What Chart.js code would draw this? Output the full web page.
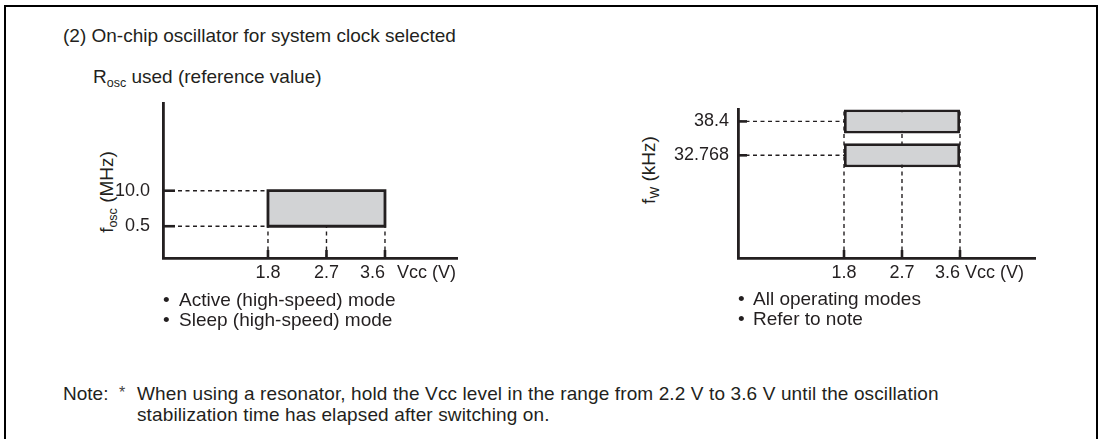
<!DOCTYPE html>
<html>
<head>
<meta charset="utf-8">
<script src="https://cdn.jsdelivr.net/npm/chart.js@4.4.1/dist/chart.umd.min.js"></script>
<style>
  html, body { margin: 0; padding: 0; background: #fff; }
  body {
    width: 1102px; height: 439px; position: relative; overflow: hidden;
    font-family: "Liberation Sans", Arial, Helvetica, sans-serif; color: #231f20;
  }
  .frame {
    position: absolute; left: 4px; top: 5px; width: 1090px; height: 470px;
    border: 2.5px solid #000; border-bottom: none;
  }
  .t { position: absolute; white-space: nowrap; font-size: 19px; line-height: 19px; }
  .t sub { font-size: 12.5px; line-height: 0; vertical-align: -4px; }
  .rot { transform: translate(-50%, -50%) rotate(-90deg); }
  .star { font-size: 16px; color: #444; }
  .note { letter-spacing: 0.12px; }
  canvas { position: absolute; }
</style>
</head>
<body>
<div class="frame"></div>

<div class="t" style="left:63px; top:26px;">(2) On-chip oscillator for system clock selected</div>
<div class="t" style="left:93px; top:67px;">R<sub>osc</sub> used (reference value)</div>

<div class="t rot" style="left:106px; top:192px;">f<sub>osc</sub> (MHz)</div>
<div class="t rot" style="left:648px; top:170px;">f<sub>W</sub> (kHz)</div>

<canvas id="oscChart" width="390" height="230" style="left:100px; top:80px;"></canvas>
<canvas id="subChart" width="420" height="220" style="left:660px; top:90px;"></canvas>

<div class="t" style="left:163px; top:290px;">•</div>
<div class="t" style="left:179px; top:290px;">Active (high-speed) mode</div>
<div class="t" style="left:163px; top:310px;">•</div>
<div class="t" style="left:179px; top:310px;">Sleep (high-speed) mode</div>

<div class="t" style="left:738px; top:289px;">•</div>
<div class="t" style="left:753px; top:289px;">All operating modes</div>
<div class="t" style="left:738px; top:309px;">•</div>
<div class="t" style="left:753px; top:309px;">Refer to note</div>

<div class="t" style="left:63px; top:384px;">Note:</div>
<div class="t star" style="left:119px; top:383px;">*</div>
<div class="t note" style="left:137px; top:384px;">When using a resonator, hold the Vcc level in the range from 2.2 V to 3.6 V until the oscillation</div>
<div class="t note" style="left:137px; top:405px;">stabilization time has elapsed after switching on.</div>

<script>
// ---- Left diagram: on-chip oscillator (f_osc vs Vcc) ----
const oscVccTicks   = [1.8, 2.7, 3.6];
const oscVccLabels  = ['1.8', '2.7', '3.6'];
const oscFreqTicks  = [0.5, 10.0];
const oscFreqLabels = ['0.5', '10.0'];
const oscVccRange   = [1.8, 3.6];
const oscFreqRange  = [0.5, 10.0];

// ---- Right diagram: subsystem clock (f_W vs Vcc) ----
const subVccTicks   = [1.8, 2.7, 3.6];
const subVccLabels  = ['1.8', '2.7', '3.6'];
const subFreqTicks  = [32.768, 38.4];
const subFreqLabels = ['32.768', '38.4'];
const subVccRange   = [1.8, 3.6];
const subFreqBands  = [38.4, 32.768];

const unitLabel = 'Vcc (V)';

const FONT = '"Liberation Sans", Arial, Helvetica, sans-serif';
const INK = '#231f20';
const BOX_FILL = '#d2d3d5';

// axis windows (schematic, not to scale)
const oscX = { min: 0.185, max: 4.708 };
const oscY = { min: -8.0, max: 33.25 };
const subX = { min: 0.155, max: 4.764 };
const subY = { min: 15.71, max: 40.33 };

// short inward tick marks plus the Vcc tick labels and unit
const axisMarks = {
  id: 'axisMarks',
  afterDatasetsDraw(chart, args, o) {
    const { ctx, chartArea, scales } = chart;
    const xs = scales.x, ys = scales.y;
    ctx.save();
    ctx.strokeStyle = INK;
    ctx.lineWidth = 2.6;
    ctx.lineCap = 'butt';
    o.yTicks.forEach(v => {
      const py = ys.getPixelForValue(v);
      ctx.beginPath();
      ctx.moveTo(chartArea.left, py);
      ctx.lineTo(chartArea.left + o.yLen, py);
      ctx.stroke();
    });
    o.xTicks.forEach(v => {
      const px = xs.getPixelForValue(v);
      ctx.beginPath();
      ctx.moveTo(px, chartArea.bottom);
      ctx.lineTo(px, chartArea.bottom - o.xLen);
      ctx.stroke();
    });
    ctx.fillStyle = INK;
    ctx.font = '18px ' + FONT;
    ctx.textBaseline = 'middle';
    const ly = chartArea.bottom + o.labelDy;
    const n = o.xTicks.length;
    let lastPx = 0;
    o.xTicks.forEach((v, i) => {
      const px = xs.getPixelForValue(v);
      ctx.textAlign = (i === n - 1) ? 'right' : 'center';
      ctx.fillText(o.xLabels[i], px, ly);
      lastPx = px;
    });
    ctx.textAlign = 'left';
    ctx.fillText(o.unit, lastPx + o.unitGap, ly);
    ctx.restore();
  }
};

function scaleOptions(xr, yr, yTicks, yLabels, yWidth, xHeight, yPad) {
  const grid = { display: true, drawOnChartArea: false, drawTicks: false, offset: false };
  const border = { display: true, color: INK, width: 2.8 };
  return {
    x: {
      type: 'linear', min: xr.min, max: xr.max, offset: false,
      grid, border,
      ticks: { display: false },
      afterFit: s => { s.height = xHeight; }
    },
    y: {
      type: 'linear', min: yr.min, max: yr.max, offset: false,
      grid, border,
      afterBuildTicks: s => { s.ticks = yTicks.map(v => ({ value: v })); },
      ticks: {
        autoSkip: false, padding: yPad, color: INK,
        font: { family: FONT, size: 18 },
        callback: (v, i) => yLabels[i]
      },
      afterFit: s => { s.width = yWidth; }
    }
  };
}

function guide(points) {
  return {
    type: 'line', data: points, borderColor: INK, borderWidth: 1.4,
    borderDash: [4, 3.5], pointRadius: 0, pointHoverRadius: 0,
    fill: false, tension: 0, clip: false, order: 2
  };
}

function rectPoints(xr, yr) {
  return [
    { x: xr[0], y: yr[0] }, { x: xr[0], y: yr[1] },
    { x: xr[1], y: yr[1] }, { x: xr[1], y: yr[0] },
    { x: xr[0], y: yr[0] }
  ];
}

const common = {
  responsive: false,
  maintainAspectRatio: false,
  animation: false,
  events: [],
  plugins: { legend: { display: false }, tooltip: { enabled: false } }
};

// Left: operating window box with guides
new Chart(document.getElementById('oscChart'), {
  type: 'line',
  data: {
    datasets: [
      {
        data: rectPoints(oscVccRange, oscFreqRange),
        fill: 'shape', backgroundColor: BOX_FILL,
        borderColor: INK, borderWidth: 2.8, borderJoinStyle: 'miter', borderCapStyle: 'square',
        pointRadius: 0, pointHoverRadius: 0, tension: 0, clip: false, order: 0
      },
      ...oscFreqTicks.map(f => guide([{ x: oscX.min, y: f }, { x: oscVccRange[0], y: f }])),
      ...oscVccTicks.map(v => guide([{ x: v, y: oscY.min }, { x: v, y: oscFreqRange[0] }]))
    ]
  },
  options: Object.assign({}, common, {
    layout: { padding: { top: 13, right: 33, left: 0, bottom: 0 } },
    scales: scaleOptions(oscX, oscY, oscFreqTicks, oscFreqLabels, 63, 52, 13),
    plugins: Object.assign({}, common.plugins, {
      axisMarks: {
        xTicks: oscVccTicks, xLabels: oscVccLabels, yTicks: oscFreqTicks,
        xLen: 8, yLen: 12, labelDy: 15.5, unit: unitLabel, unitGap: 12
      }
    })
  }),
  plugins: [axisMarks]
});

// Right: two subsystem clock bands across the Vcc range
new Chart(document.getElementById('subChart'), {
  type: 'line',
  data: {
    datasets: [
      {
        type: 'bar', indexAxis: 'y',
        data: subFreqBands.map(f => ({ y: f, x: subVccRange.slice() })),
        backgroundColor: BOX_FILL, borderColor: INK, borderWidth: 2.8, borderSkipped: false,
        categoryPercentage: 1, barPercentage: 0.71, clip: false, order: 0
      },
      ...subFreqTicks.map(f => guide([{ x: subX.min, y: f }, { x: subVccRange[0], y: f }])),
      ...subVccTicks.map(v => guide([{ x: v, y: subY.min }, { x: v, y: subY.max }]))
    ]
  },
  options: Object.assign({}, common, {
    layout: { padding: { top: 15, right: 45, left: 0, bottom: 0 } },
    scales: scaleOptions(subX, subY, subFreqTicks, subFreqLabels, 78, 52, 9),
    plugins: Object.assign({}, common.plugins, {
      axisMarks: {
        xTicks: subVccTicks, xLabels: subVccLabels, yTicks: subFreqTicks,
        xLen: 8, yLen: 9, labelDy: 15.5, unit: unitLabel, unitGap: 5
      }
    })
  }),
  plugins: [axisMarks]
});
</script>
</body>
</html>
